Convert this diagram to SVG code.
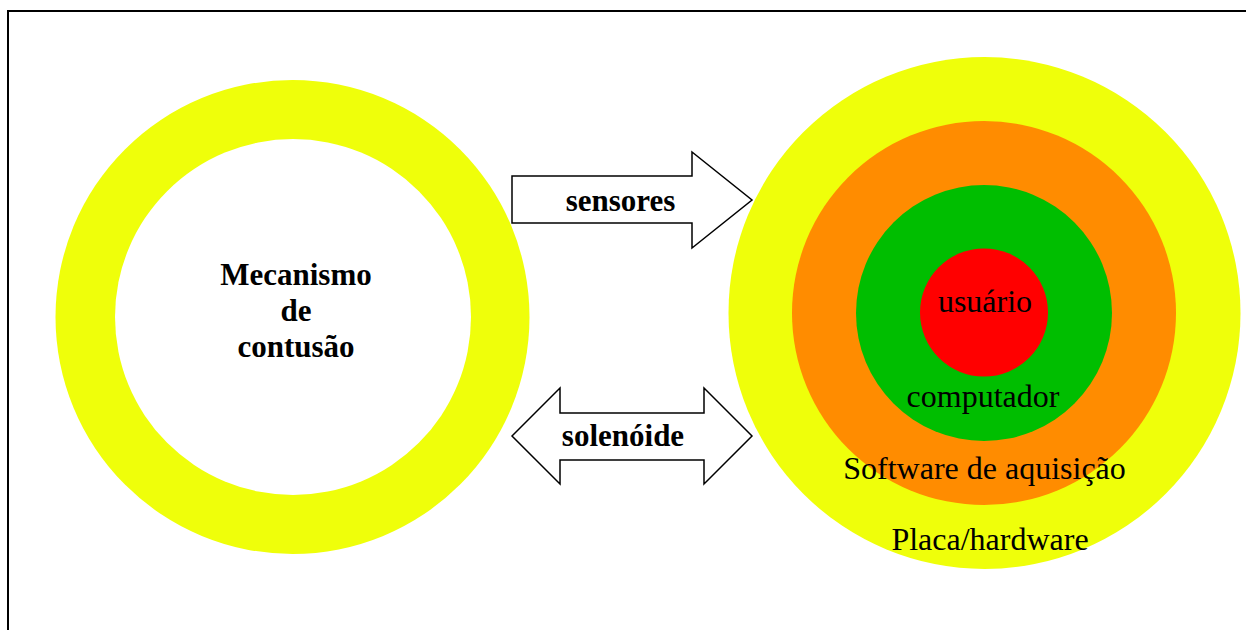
<svg xmlns="http://www.w3.org/2000/svg" width="1246" height="630" viewBox="0 0 1246 630">
  <style>
    .frame { fill: none; stroke: #000; stroke-width: 2; }
    .arrow { fill: #fff; stroke: #000; stroke-width: 1.5; stroke-linejoin: miter; }
    .bold { font-family: "Liberation Serif", "Times New Roman", serif; font-weight: bold; font-size: 31px; fill: #000; text-anchor: middle; }
    .reg { font-family: "Liberation Serif", "Times New Roman", serif; font-size: 32px; fill: #000; text-anchor: middle; }
  </style>
  <rect width="1246" height="630" fill="#fff"/>
  <!-- outer frame, running off the right and bottom edges -->
  <rect class="frame" x="8" y="11" width="1250" height="640"/>

  <!-- left ring: the mechanism -->
  <g id="mecanismo">
    <circle cx="292.5" cy="317" r="237" fill="#EFFF0A"/>
    <circle cx="293" cy="317" r="178" fill="#fff"/>
    <text class="bold" x="296" y="285">Mecanismo</text>
    <text class="bold" x="296" y="321">de</text>
    <text class="bold" x="296" y="357">contusão</text>
  </g>

  <!-- right concentric layers -->
  <g id="placa">
    <circle cx="984.5" cy="313" r="256" fill="#EFFF0A"/>
  </g>
  <g id="software">
    <circle cx="984" cy="313" r="192" fill="#FF8C00"/>
  </g>
  <g id="computador">
    <circle cx="984" cy="313" r="128" fill="#00BE00"/>
  </g>
  <g id="usuario">
    <circle cx="984" cy="312.5" r="64" fill="#FF0000"/>
  </g>
  <g id="labels">
    <text class="reg" x="985" y="312">usuário</text>
    <text class="reg" x="983" y="407">computador</text>
    <text class="reg" x="984.5" y="479">Software de aquisição</text>
    <text class="reg" x="990" y="550">Placa/hardware</text>
  </g>

  <!-- connectors -->
  <g id="connectors">
    <g id="sensores">
      <polygon class="arrow" points="512,176 692,176 692,152 752,200 692,248 692,223 512,223"/>
      <text class="bold" x="620.5" y="211">sensores</text>
    </g>
    <g id="solenoide">
      <polygon class="arrow" points="512,436 560,388 560,413 704,413 704,388 752,436 704,484 704,460 560,460 560,484"/>
      <text class="bold" x="623" y="446">solenóide</text>
    </g>
  </g>
</svg>
